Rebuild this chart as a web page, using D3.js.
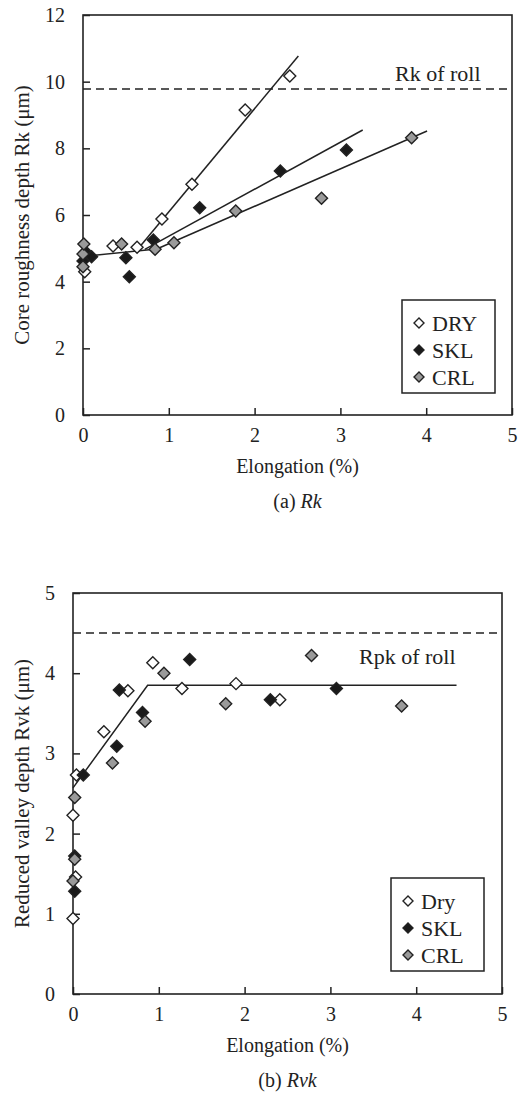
<!DOCTYPE html>
<html>
<head>
<meta charset="utf-8">
<script src="https://cdn.jsdelivr.net/npm/d3@7"></script>
<style>
  body { margin: 0; background: #fff; }
  svg text { font-family: "Liberation Serif", "DejaVu Serif", serif; fill: #222; }
</style>
</head>
<body>
<svg id="chart" width="519" height="1101"></svg>
<script>
// ---- panel (a): Rk ----
const rkDry = [[0.02, 4.3], [0.35, 5.07], [0.63, 5.03], [0.92, 5.88], [1.27, 6.92], [1.89, 9.15], [2.41, 10.17]];
const rkSkl = [[0.0, 4.62], [0.03, 4.9], [0.1, 4.75], [0.5, 4.72], [0.54, 4.15], [0.82, 5.25], [1.36, 6.22], [2.3, 7.32], [3.07, 7.95]];
const rkCrl = [[0.0, 4.45], [0.0, 4.83], [0.01, 5.13], [0.45, 5.13], [0.84, 4.97], [1.06, 5.17], [1.78, 6.12], [2.78, 6.5], [3.83, 8.32]];
const rkLines = [
  [[0.08, 4.78], [0.86, 4.98]],   // common start
  [[0.64, 4.98], [2.51, 10.77]],  // DRY
  [[0.72, 4.97], [3.26, 8.55]],   // SKL
  [[0.86, 4.98], [4.01, 8.52]]    // CRL
];
const rkRoll = 9.78;
const rkYTicks = [0, 2, 4, 6, 8, 10, 12];

// ---- panel (b): Rvk ----
const rvkDry = [[0.0, 0.94], [0.03, 1.46], [0.0, 2.23], [0.04, 2.73], [0.36, 3.27], [0.64, 3.78], [0.93, 4.13], [1.27, 3.81], [1.9, 3.87], [2.41, 3.67]];
const rvkSkl = [[0.02, 1.28], [0.02, 1.72], [0.12, 2.73], [0.51, 3.09], [0.54, 3.79], [0.81, 3.51], [1.36, 4.17], [2.3, 3.67], [3.07, 3.81]];
const rvkCrl = [[0.0, 1.41], [0.02, 1.68], [0.02, 2.45], [0.46, 2.88], [0.84, 3.4], [1.06, 4.0], [1.78, 3.62], [2.78, 4.22], [3.83, 3.59]];
const rvkLines = [
  [[0.0, 2.57], [0.87, 3.85], [4.47, 3.85]]
];
const rvkRoll = 4.5;
const rvkYTicks = [0, 1, 2, 3, 4, 5];

const xTicks = [0, 1, 2, 3, 4, 5];
const seriesFill = ["#ffffff", "#1a1a1a", "#9a9a9a"];

const svg = d3.select("#chart");
const ink = "#222";

function drawPanel(p) {
  const x = d3.scaleLinear().domain([0, 5]).range([p.left, p.left + 429]);
  const y = d3.scaleLinear().domain([0, p.yMax]).range([p.top + p.height, p.top]);
  const g = svg.append("g");

  // ticks point inward
  g.append("g")
    .attr("transform", `translate(0,${p.top + p.height})`)
    .call(d3.axisBottom(x).tickValues(xTicks).tickSize(-7).tickPadding(13).tickFormat(d3.format("d")))
    .call(a => a.select(".domain").remove())
    .call(a => a.selectAll("line").attr("stroke", ink).attr("stroke-width", 1.5))
    .call(a => a.selectAll("text").attr("font-size", 20).attr("font-family", "Liberation Serif").attr("fill", ink));

  g.append("g")
    .attr("transform", `translate(${p.left},0)`)
    .call(d3.axisLeft(y).tickValues(p.yTicks).tickSize(-7).tickPadding(18).tickFormat(d3.format("d")))
    .call(a => a.select(".domain").remove())
    .call(a => a.selectAll("line").attr("stroke", ink).attr("stroke-width", 1.5))
    .call(a => a.selectAll("text").attr("font-size", 20).attr("font-family", "Liberation Serif").attr("fill", ink));

  // frame
  g.append("rect")
    .attr("x", p.left).attr("y", p.top)
    .attr("width", 429).attr("height", p.height)
    .attr("fill", "none").attr("stroke", ink).attr("stroke-width", 1.6);

  // roll reference
  g.append("line")
    .attr("x1", p.left).attr("x2", p.left + 429)
    .attr("y1", y(p.roll)).attr("y2", y(p.roll))
    .attr("stroke", ink).attr("stroke-width", 1.5).attr("stroke-dasharray", "8,5");
  g.append("text")
    .attr("x", p.rollTextX).attr("y", y(p.roll) + p.rollTextDy)
    .attr("font-size", 22).text(p.rollLabel);

  // fit lines
  const line = d3.line().x(d => x(d[0])).y(d => y(d[1]));
  g.selectAll(".fit").data(p.lines).enter().append("path")
    .attr("d", line).attr("fill", "none").attr("stroke", ink).attr("stroke-width", 1.5);

  // markers
  const diamond = "M0,-6L6,0L0,6L-6,0Z";
  p.series.forEach((s, i) => {
    g.selectAll(null).data(s).enter().append("path")
      .attr("d", diamond)
      .attr("transform", d => `translate(${x(d[0])},${y(d[1])})`)
      .attr("fill", seriesFill[i]).attr("stroke", ink).attr("stroke-width", 1.4);
  });

  // legend
  const lg = g.append("g").attr("transform", `translate(${p.legend[0]},${p.legend[1]})`);
  lg.append("rect").attr("width", 93).attr("height", 93)
    .attr("fill", "#fff").attr("stroke", ink).attr("stroke-width", 1.5);
  p.names.forEach((n, i) => {
    const cy = 23 + i * 27;
    lg.append("path").attr("d", "M0,-5L5,0L0,5L-5,0Z")
      .attr("transform", `translate(17,${cy})`)
      .attr("fill", seriesFill[i]).attr("stroke", ink).attr("stroke-width", 1.4);
    lg.append("text").attr("x", 30).attr("y", cy + 8).attr("font-size", 22).text(n);
  });

  // axis titles
  const cx = p.left + 429 / 2;
  g.append("text").attr("x", cx).attr("y", p.top + p.height + 58)
    .attr("text-anchor", "middle").attr("font-size", 20).text("Elongation (%)");
  const cap = g.append("text").attr("x", cx).attr("y", p.top + p.height + 93)
    .attr("text-anchor", "middle").attr("font-size", 20);
  cap.append("tspan").text(p.caption[0]);
  cap.append("tspan").attr("font-style", "italic").text(p.caption[1]);
  g.append("text")
    .attr("transform", `translate(29,${p.top + p.height / 2}) rotate(-90)`)
    .attr("text-anchor", "middle").attr("font-size", 21).text(p.yLabel);
}

drawPanel({
  left: 83, top: 15, height: 400, yMax: 12, yTicks: rkYTicks,
  series: [rkDry, rkSkl, rkCrl], lines: rkLines, names: ["DRY", "SKL", "CRL"],
  roll: rkRoll, rollLabel: "Rk of roll", rollTextX: 395, rollTextDy: -8,
  legend: [402, 300], caption: ["(a) ", "Rk"],
  yLabel: "Core roughness depth Rk (μm)"
});

drawPanel({
  left: 73, top: 593, height: 401, yMax: 5, yTicks: rvkYTicks,
  series: [rvkDry, rvkSkl, rvkCrl], lines: rvkLines, names: ["Dry", "SKL", "CRL"],
  roll: rvkRoll, rollLabel: "Rpk of roll", rollTextX: 359, rollTextDy: 31,
  legend: [391, 878], caption: ["(b) ", "Rvk"],
  yLabel: "Reduced valley depth Rvk (μm)"
});
</script>
</body>
</html>
